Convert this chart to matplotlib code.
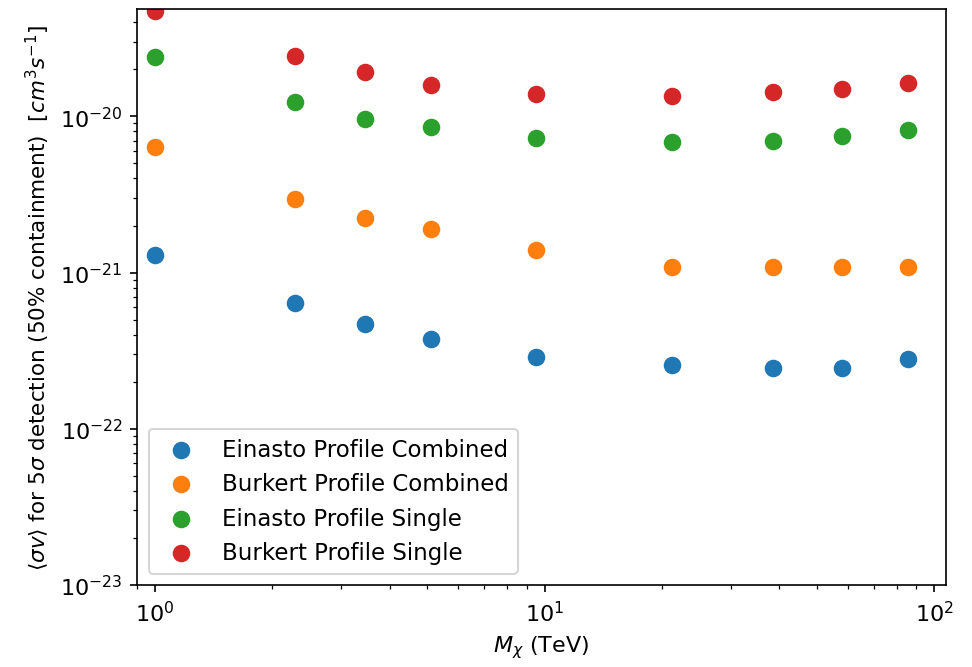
import numpy as np
import matplotlib
matplotlib.use('Agg')
import matplotlib.pyplot as plt

# dark matter masses (TeV)
masses = [1.0, 2.29, 3.47, 5.12, 9.48, 21.2, 38.6, 58.0, 85.8]

# <sigma v> limits for each halo profile
einasto_combined = [1.29e-21, 6.42e-22, 4.65e-22, 3.78e-22, 2.90e-22, 2.57e-22, 2.46e-22, 2.46e-22, 2.81e-22]
burkert_combined = [6.33e-21, 2.94e-21, 2.25e-21, 1.89e-21, 1.40e-21, 1.09e-21, 1.09e-21, 1.08e-21, 1.09e-21]
einasto_single = [2.39e-20, 1.23e-20, 9.57e-21, 8.50e-21, 7.23e-21, 6.81e-21, 6.92e-21, 7.44e-21, 8.13e-21]
burkert_single = [4.71e-20, 2.42e-20, 1.92e-20, 1.58e-20, 1.38e-20, 1.34e-20, 1.43e-20, 1.49e-20, 1.63e-20]

plt.rcParams['font.size'] = 10.7

fig = plt.figure(figsize=(6.48, 4.453), dpi=150)
ax = fig.add_axes([0.141, 0.1228, 0.832, 0.862])

ax.scatter(masses, einasto_combined, s=55, label='Einasto Profile Combined')
ax.scatter(masses, burkert_combined, s=55, label='Burkert Profile Combined')
ax.scatter(masses, einasto_single, s=55, label='Einasto Profile Single')
ax.scatter(masses, burkert_single, s=55, label='Burkert Profile Single')

ax.set_xscale('log')
ax.set_yscale('log')
ax.set_xlim(0.9, 107)
ax.set_ylim(1e-23, 4.85e-20)

ax.set_xlabel(r'$M_\chi$ (TeV)')
ax.set_ylabel(r'$\langle\sigma v\rangle$ for 5$\sigma$ detection (50% containment)  $[cm^3 s^{-1}]$',
              fontsize=10.3, labelpad=4)
ax.legend(loc='lower left', fontsize=11)

fig.savefig('out.png', dpi=150)
